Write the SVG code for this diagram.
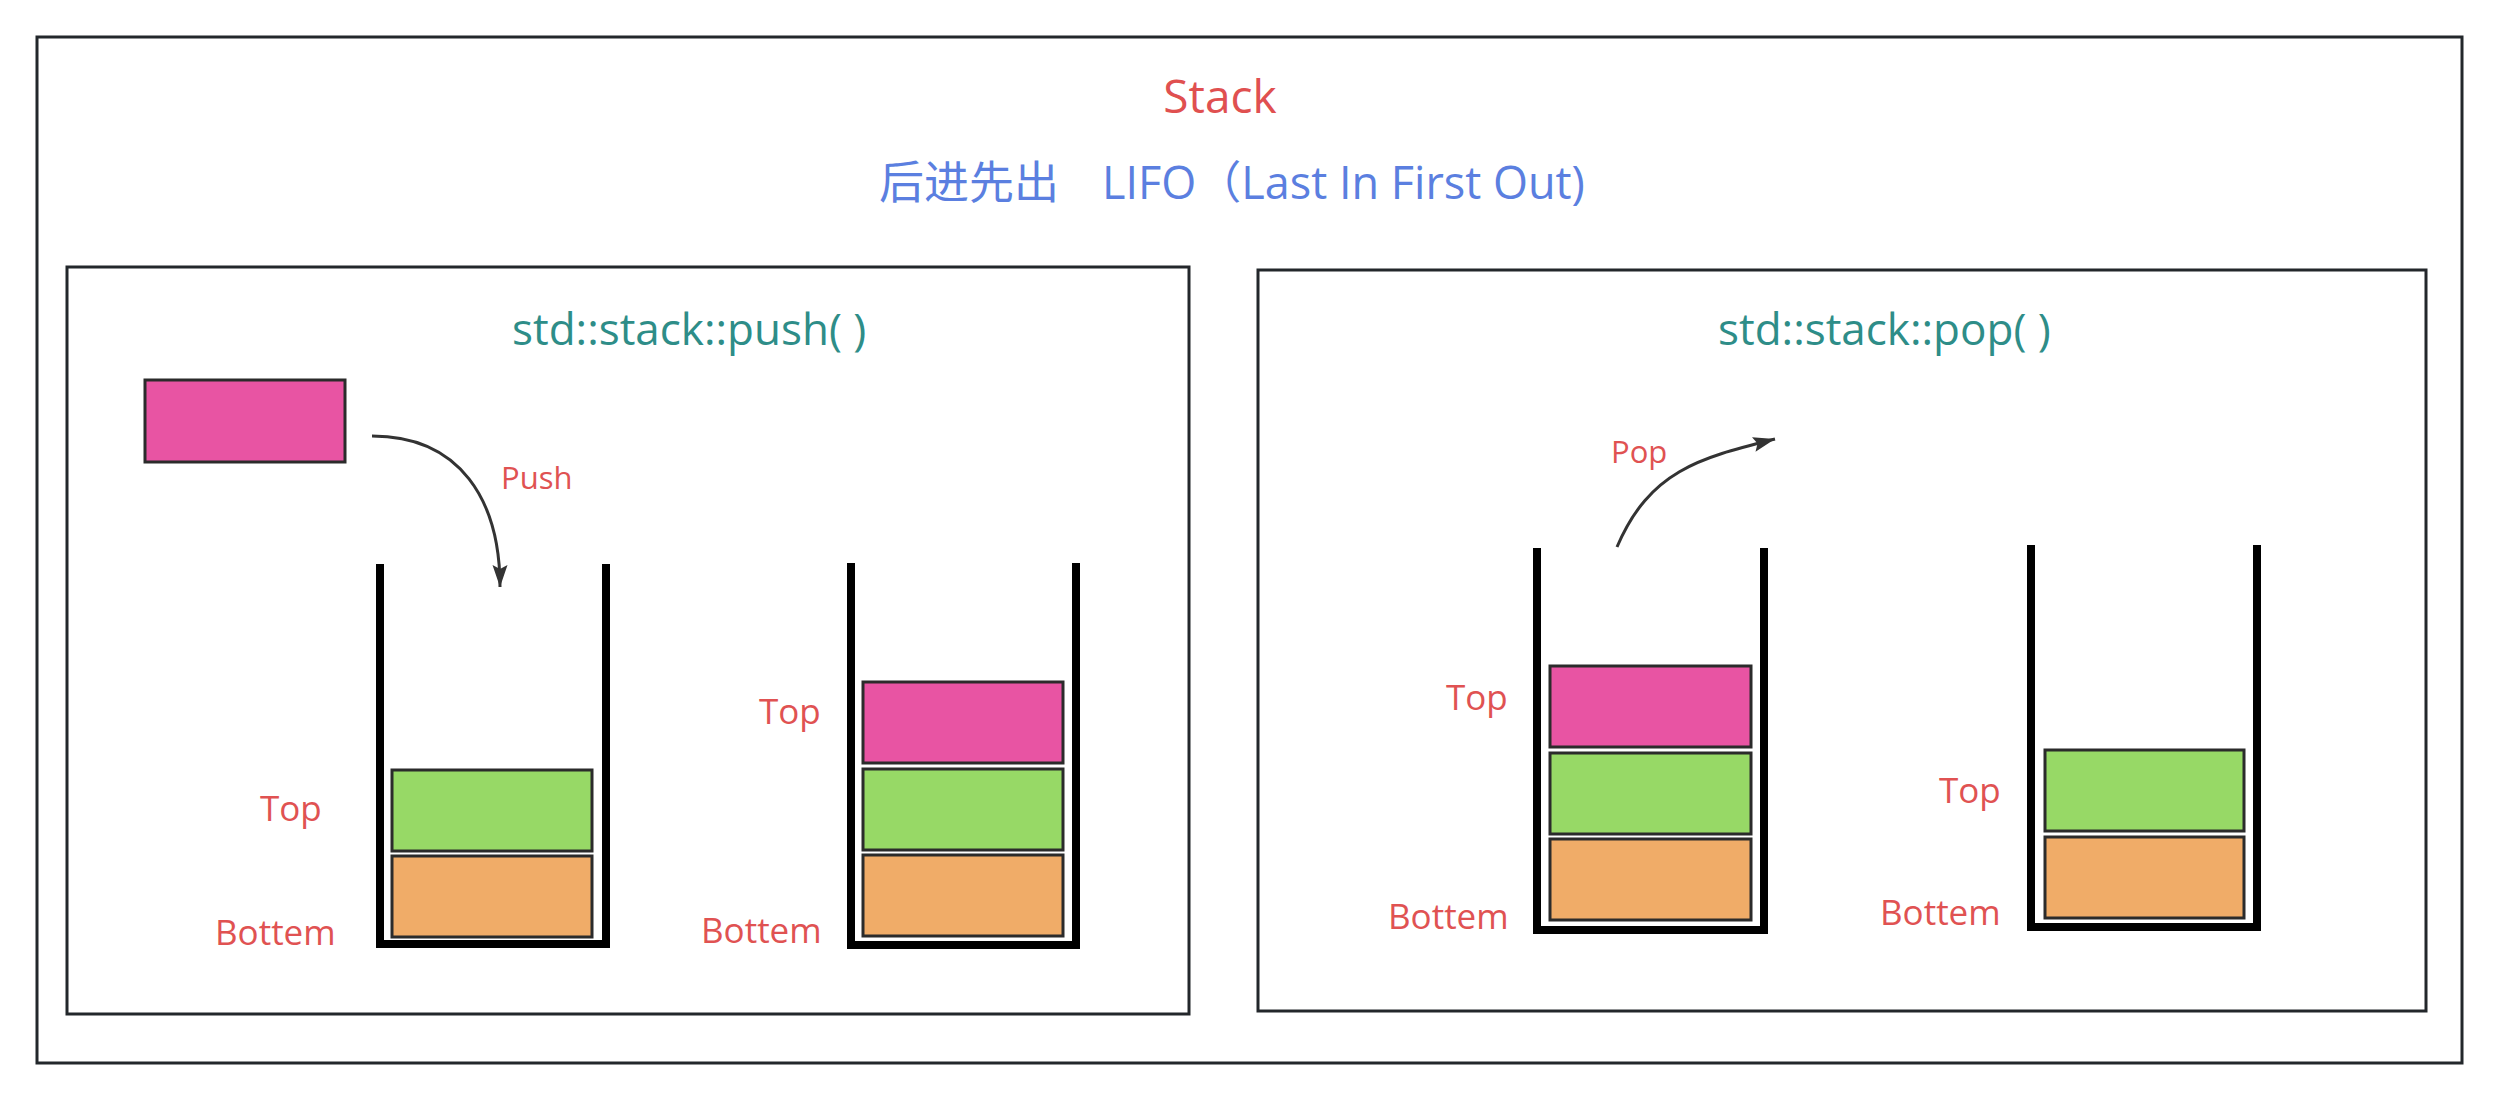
<svg xmlns="http://www.w3.org/2000/svg" width="2499" height="1100" viewBox="0 0 2499 1100">
<style>
.frame{fill:none;stroke:#23272b;stroke-width:3}
.wall{fill:none;stroke:#000;stroke-width:8;stroke-linejoin:miter}
.blk{stroke:#2b2b2b;stroke-width:3}
.pink{fill:#E854A3}
.green{fill:#97D966}
.orange{fill:#F0AC68}
.lbl{font-family:"Open Sans","Noto Sans",sans-serif;font-size:35px;fill:#E05252}
.small{font-family:"Open Sans","Noto Sans",sans-serif;font-size:31px;fill:#E05252}
.ttl{font-family:"Open Sans","Noto Sans",sans-serif;font-size:44px;fill:#2E8D88}
.conn{fill:none;stroke:#333;stroke-width:3}
</style>
<defs>
<marker id="arrow" markerUnits="userSpaceOnUse" markerWidth="24" markerHeight="16" refX="22" refY="7.5" orient="auto">
<path d="M0,0 L22,7.5 L0,15 L4,7.5 z" fill="#333"/>
</marker>
</defs>
<rect width="2499" height="1100" fill="#fff"/>
<g id="outer">
<rect class="frame" x="37" y="37" width="2425" height="1026"/>
<text x="1220" y="113" text-anchor="middle" font-family="Open Sans, Noto Sans, sans-serif" font-size="46" fill="#E05050">Stack</text>
<text y="199" font-family="Open Sans, Noto Sans CJK SC, sans-serif" font-size="45" fill="#5B7FE0"><tspan x="879">后进先出</tspan><tspan x="1102">LIFO（Last In First Out)</tspan></text>
</g>
<g id="push-panel">
<rect class="frame" x="67" y="267" width="1122" height="747"/>
<text class="ttl" x="512" y="345">std::stack::push( )</text>
</g>
<g id="pop-panel">
<rect class="frame" x="1258" y="270" width="1168" height="741"/>
<text class="ttl" x="1718" y="345">std::stack::pop( )</text>
</g>
<g id="push-item">
<rect class="blk pink" x="145" y="380" width="200" height="82"/>
</g>
<g id="stack1">
<path class="wall" d="M380,564 V944 H606 V564"/>
<rect class="blk green" x="392" y="770" width="200" height="81"/>
<rect class="blk orange" x="392" y="856" width="200" height="81"/>
<text class="lbl" x="260" y="821">Top</text>
<text class="lbl" x="215" y="945">Bottem</text>
</g>
<g id="stack2">
<path class="wall" d="M851,563 V945 H1076 V563"/>
<rect class="blk pink" x="863" y="682" width="200" height="81"/>
<rect class="blk green" x="863" y="769" width="200" height="81"/>
<rect class="blk orange" x="863" y="855" width="200" height="81"/>
<text class="lbl" x="759" y="724">Top</text>
<text class="lbl" x="701" y="943">Bottem</text>
</g>
<g id="stack3">
<path class="wall" d="M1537,548 V930 H1764 V548"/>
<rect class="blk pink" x="1550" y="666" width="201" height="81"/>
<rect class="blk green" x="1550" y="753" width="201" height="81"/>
<rect class="blk orange" x="1550" y="839" width="201" height="81"/>
<text class="lbl" x="1446" y="710">Top</text>
<text class="lbl" x="1388" y="929">Bottem</text>
</g>
<g id="stack4">
<path class="wall" d="M2031,545 V927 H2257 V545"/>
<rect class="blk green" x="2045" y="750" width="199" height="81"/>
<rect class="blk orange" x="2045" y="837" width="199" height="81"/>
<text class="lbl" x="1939" y="803">Top</text>
<text class="lbl" x="1880" y="925">Bottem</text>
</g>
<g id="connectors">
<path class="conn" d="M372,436 C460,436 500,500 500,587" marker-end="url(#arrow)"/>
<text class="small" x="501" y="489">Push</text>
<path class="conn" d="M1617,547 C1650,470 1700,458 1775,439" marker-end="url(#arrow)"/>
<text class="small" x="1611" y="463">Pop</text>
</g>
</svg>
